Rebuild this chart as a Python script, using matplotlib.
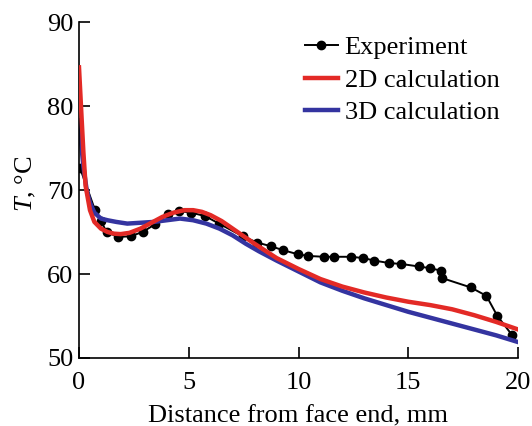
import matplotlib
matplotlib.use("Agg")
import matplotlib.pyplot as plt
from matplotlib.ticker import MultipleLocator

plt.rcParams['font.family'] = ['Liberation Serif', 'DejaVu Serif']
plt.rcParams['mathtext.fontset'] = 'custom'
plt.rcParams['mathtext.it'] = 'Liberation Serif:italic'
plt.rcParams['mathtext.rm'] = 'Liberation Serif'

# Experiment
exp_x = [0.05, 0.73, 1.0, 1.26, 1.79, 2.35, 2.9, 3.45, 4.06, 4.55, 5.12, 5.74, 6.38,
         7.45, 8.11, 8.75, 9.28, 9.97, 10.44, 11.16, 11.64, 12.38, 12.95, 13.45,
         14.14, 14.67, 15.47, 15.98, 16.49, 16.56, 17.85, 18.56, 19.06, 19.74]
exp_y = [72.6, 67.6, 66.3, 65.0, 64.4, 64.5, 65.0, 65.9, 67.1, 67.5, 67.3, 66.9, 66.0,
         64.5, 63.75, 63.3, 62.85, 62.35, 62.15, 62.05, 62.05, 62.05, 61.9, 61.6,
         61.3, 61.2, 60.9, 60.7, 60.4, 59.5, 58.4, 57.4, 55.0, 52.7]

# 2D calculation
c2_x = [0, 0.1, 0.2, 0.3, 0.5, 0.7, 1.0, 1.3, 1.6, 1.9, 2.3, 2.8, 3.3, 3.8, 4.3, 4.8,
        5.2, 5.6, 6.0, 6.5, 7.0, 7.5, 8.0, 9.0, 10.0, 11.0, 12.0, 13.0, 14.0, 15.0,
        16.0, 17.0, 18.0, 19.0, 20.0]
c2_y = [84.6, 79.5, 74.5, 70.5, 67.6, 66.2, 65.4, 65.0, 64.8, 64.75, 64.9, 65.4, 66.1,
        66.8, 67.3, 67.6, 67.6, 67.4, 67.0, 66.3, 65.4, 64.5, 63.6, 61.9, 60.6, 59.4,
        58.5, 57.8, 57.2, 56.7, 56.3, 55.8, 55.1, 54.3, 53.4]

# 3D calculation
c3_x = [0, 0.1, 0.2, 0.35, 0.5, 0.7, 1.0, 1.3, 1.7, 2.2, 2.8, 3.4, 4.0, 4.6, 5.2, 5.8,
        6.4, 7.0, 7.6, 8.2, 9.0, 10.0, 11.0, 12.0, 13.0, 14.0, 15.0, 16.0, 17.0, 18.0,
        19.0, 20.0]
c3_y = [78.3, 75.5, 72.8, 70.0, 68.5, 67.3, 66.6, 66.4, 66.2, 66.0, 66.1, 66.2, 66.4,
        66.6, 66.4, 66.0, 65.4, 64.6, 63.6, 62.7, 61.6, 60.3, 59.0, 58.0, 57.1, 56.3,
        55.5, 54.8, 54.1, 53.4, 52.7, 51.9]

fig = plt.figure(figsize=(5.32, 4.26), dpi=100)
ax = fig.add_axes([79/532, 1 - 358/426, (518 - 79)/532, (358 - 22)/426])

ax.plot(exp_x, exp_y, color='black', lw=1.4, marker='o', ms=6, label='Experiment', zorder=2)
ax.plot(c2_x, c2_y, color='#e32a26', lw=3.2, label='2D calculation', zorder=3)
ax.plot(c3_x, c3_y, color='#3434a0', lw=3.2, label='3D calculation', zorder=2.5)

ax.set_xlim(0, 20)
ax.set_ylim(50, 90)
ax.xaxis.set_major_locator(MultipleLocator(5))
ax.yaxis.set_major_locator(MultipleLocator(10))
for s in ['top', 'right']:
    ax.spines[s].set_visible(False)
for s in ['left', 'bottom']:
    ax.spines[s].set_linewidth(1.2)
ax.tick_params(direction='in', length=8, width=1.2, labelsize=19, pad=4)
ax.tick_params(axis='x', pad=10)
ax.set_xlabel('Distance from face end, mm', fontsize=19, labelpad=8)
ax.set_ylabel('$T$, °C', fontsize=19)
ax.yaxis.set_label_coords(-0.094, 0.518)

ax.legend(loc='upper left', bbox_to_anchor=((305 - 79) / 439, (358 - 36) / 336),
          frameon=False, fontsize=19, borderpad=0,
          handlelength=1.25, handletextpad=0.25, labelspacing=0.34, borderaxespad=0)

fig.savefig('out.png', dpi=100)
